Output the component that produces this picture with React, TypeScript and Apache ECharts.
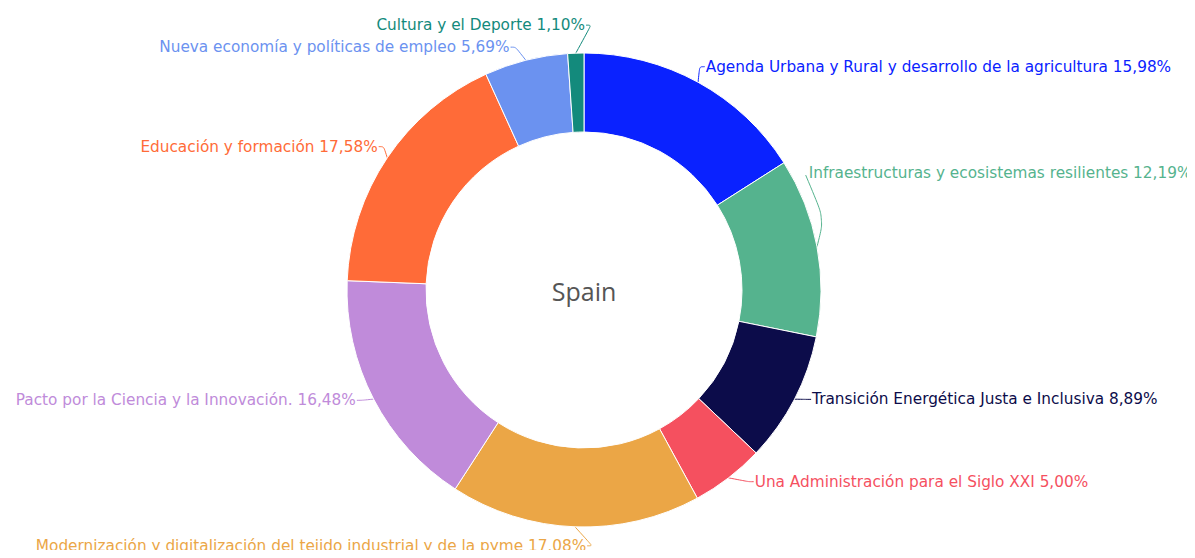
import React, { useEffect, useRef } from "react";
import * as echarts from "echarts";

const categories = [
  "Agenda Urbana y Rural y desarrollo de la agricultura",
  "Infraestructuras y ecosistemas resilientes",
  "Transición Energética Justa e Inclusiva",
  "Una Administración para el Siglo XXI",
  "Modernización y digitalización del tejido industrial y de la pyme",
  "Pacto por la Ciencia y la Innovación.",
  "Educación y formación",
  "Nueva economía y políticas de empleo",
  "Cultura y el Deporte",
];
const values = [15.98, 12.19, 8.89, 5.0, 17.08, 16.48, 17.58, 5.69, 1.1];
const colors = [
  "#0a22ff",
  "#55b38e",
  "#0c0c4a",
  "#f5505f",
  "#eba646",
  "#c08bda",
  "#ff6b38",
  "#6b92f0",
  "#138a7c",
];
const centerTitle = "Spain";

// label nudges (dx, dy) by slice index, to follow the reference's label placement
const labelNudge: Record<number, [number, number]> = {
  0: [-8, 2],
  1: [-34, -70],
  2: [-6, -9],
  3: [8, -12],
  4: [18, -1],
  5: [5, -8],
  6: [12, 0],
  7: [28, -5],
  8: [16, -8],
};

export default function App() {
  const ref = useRef<HTMLDivElement>(null);
  useEffect(() => {
    if (!ref.current) return;
    const chart = echarts.init(ref.current, undefined, { renderer: "svg" });
    const font = "'DejaVu Sans', sans-serif";
    chart.setOption({
      animation: false,
      color: colors,
      graphic: [
        {
          type: "text",
          x: 584,
          y: 291,
          style: {
            text: centerTitle,
            fontFamily: "'Open Sans', sans-serif",
            fontSize: 25,
            fill: "#555",
            textAlign: "center",
            textVerticalAlign: "middle",
          },
        },
      ],
      series: [
        {
          type: "pie",
          center: [584, 290],
          radius: [158, 237],
          startAngle: 90,
          clockwise: true,
          itemStyle: { borderColor: "#fff", borderWidth: 1 },
          label: {
            fontFamily: font,
            fontSize: 15.3,
            lineHeight: 17,
            color: "inherit",
            overflow: "none",
            distanceToLabelLine: 1,
            formatter: (p: any) =>
              `${p.name} ${p.value.toFixed(2).replace(".", ",")}%`,
          },
          labelLine: {
            length: 20,
            length2: 5,
            smooth: 0.3,
            lineStyle: { width: 1 },
          },
          labelLayout: (params: any) => {
            const n = labelNudge[params.dataIndex];
            const pts = params.labelLinePoints;
            if (!n || !pts) return {};
            const [dx, dy] = n;
            const p0 = [pts[0][0], pts[0][1]];
            if (params.dataIndex === 1) {
              return {
                dx,
                dy,
                labelLinePoints: [
                  p0,
                  [p0[0] + 7, p0[1] - 28],
                  [pts[2][0] + dx - 2, pts[2][1] + dy + 2],
                ],
              };
            }
            return {
              dx,
              dy,
              labelLinePoints: [
                p0,
                [pts[1][0] + dx, pts[1][1] + dy],
                [pts[2][0] + dx, pts[2][1] + dy],
              ],
            };
          },
          data: categories.map((c, i) => ({
            name: c,
            value: values[i],
            label: { color: colors[i] },
          })),
        },
      ],
    });
    return () => chart.dispose();
  }, []);
  return (
    <div
      ref={ref}
      style={{ width: 1195, height: 558, margin: -8 }}
    />
  );
}
